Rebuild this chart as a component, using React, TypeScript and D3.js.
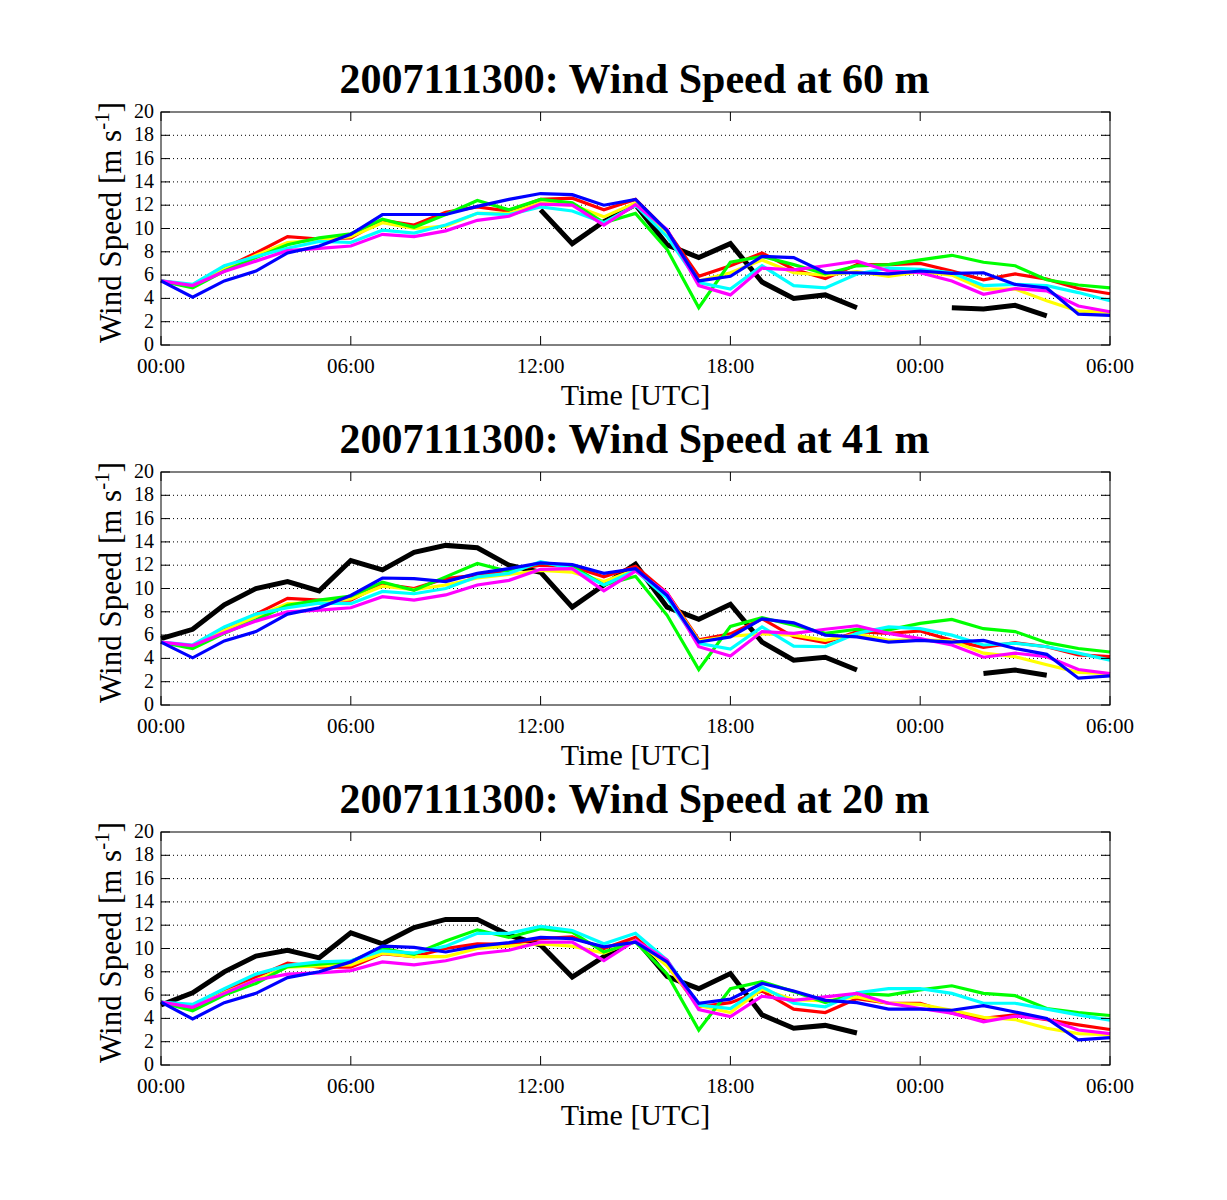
import React from "react";
import * as d3 from "d3";

const hours = d3.range(0, 31);
const xTickHours = [0, 6, 12, 18, 24, 30];
const xTickLabels = ["00:00", "06:00", "12:00", "18:00", "00:00", "06:00"];
const yTicks = [0, 2, 4, 6, 8, 10, 12, 14, 16, 18, 20];
const titles = [
  "2007111300: Wind Speed at 60 m",
  "2007111300: Wind Speed at 41 m",
  "2007111300: Wind Speed at 20 m",
];

const N = null;
// 60 m
const black60 = [N, N, N, N, N, N, N, N, N, N, N, N, 11.6, 8.7, 10.6, 12.05, 8.6, 7.5, 8.7, 5.4, 4.0, 4.3, 3.2, N, N, 3.2, 3.1, 3.4, 2.5, N, N];
const red60 = [5.5, 5.0, 6.6, 7.9, 9.3, 9.1, 9.2, 10.7, 10.3, 11.4, 11.85, 11.5, 12.5, 12.6, 11.6, 12.5, 9.8, 5.9, 6.8, 7.9, 6.5, 5.7, 6.9, 6.9, 7.0, 6.35, 5.6, 6.1, 5.65, 4.85, 4.4];
const yellow60 = [5.5, 5.1, 6.5, 7.7, 8.8, 9.0, 9.3, 10.5, 10.0, 10.2, 11.3, 11.3, 12.2, 12.0, 11.0, 12.2, 9.7, 5.5, 6.2, 7.3, 6.2, 6.0, 6.3, 5.9, 6.3, 6.0, 4.8, 4.8, 3.8, 2.9, 2.8];
const green60 = [5.5, 4.9, 6.35, 7.5, 8.6, 9.2, 9.55, 10.8, 10.1, 11.2, 12.4, 11.6, 12.5, 12.2, 10.5, 11.3, 8.2, 3.2, 7.1, 7.6, 6.9, 6.1, 6.8, 6.9, 7.3, 7.7, 7.1, 6.8, 5.6, 5.15, 4.9];
const cyan60 = [5.5, 5.2, 6.8, 7.6, 8.3, 8.9, 8.8, 9.85, 9.6, 10.3, 11.3, 11.2, 11.85, 11.5, 10.5, 12.0, 9.3, 5.35, 4.8, 6.8, 5.1, 4.9, 6.1, 6.6, 6.5, 6.2, 5.1, 5.2, 5.1, 4.5, 3.8];
const magenta60 = [5.5, 5.1, 6.3, 7.2, 8.1, 8.3, 8.5, 9.5, 9.3, 9.8, 10.7, 11.05, 12.1, 12.0, 10.3, 12.05, 9.9, 5.1, 4.3, 6.6, 6.45, 6.8, 7.2, 6.35, 6.2, 5.5, 4.35, 4.85, 4.65, 3.35, 2.85];
const blue60 = [5.5, 4.1, 5.5, 6.35, 7.9, 8.5, 9.5, 11.2, 11.2, 11.2, 11.9, 12.5, 13.0, 12.9, 12.0, 12.5, 9.8, 5.5, 5.9, 7.6, 7.5, 6.2, 6.2, 6.1, 6.35, 6.15, 6.2, 5.2, 4.9, 2.65, 2.55];
// 41 m
const black41 = [5.7, 6.5, 8.6, 10.0, 10.6, 9.8, 12.4, 11.6, 13.1, 13.7, 13.5, 12.0, 11.4, 8.4, 10.3, 12.1, 8.4, 7.35, 8.65, 5.4, 3.85, 4.1, 3.0, N, N, N, 2.7, 3.0, 2.55, N, N];
const red41 = [5.4, 5.0, 6.5, 7.8, 9.15, 9.0, 9.0, 10.4, 10.0, 10.85, 11.15, 11.6, 12.0, 11.9, 11.0, 11.9, 9.6, 5.6, 6.1, 7.4, 5.85, 5.35, 6.3, 6.15, 6.35, 5.55, 4.95, 5.35, 5.0, 4.3, 4.15];
const yellow41 = [5.4, 5.0, 6.4, 7.6, 8.7, 8.8, 9.1, 10.2, 9.9, 10.3, 10.9, 11.2, 11.55, 11.4, 10.6, 11.6, 9.5, 5.5, 5.9, 6.1, 6.0, 5.55, 6.1, 5.55, 5.6, 5.5, 4.45, 4.15, 3.45, 2.8, 2.7];
const green41 = [5.4, 4.85, 6.15, 7.3, 8.55, 9.0, 9.35, 10.55, 9.85, 11.0, 12.15, 11.45, 12.2, 11.9, 10.3, 11.05, 7.7, 3.05, 6.75, 7.5, 6.85, 6.15, 6.5, 6.45, 7.0, 7.35, 6.55, 6.3, 5.35, 4.85, 4.55];
const cyan41 = [5.4, 5.15, 6.7, 7.8, 8.35, 8.75, 8.7, 9.75, 9.55, 10.0, 11.0, 11.3, 12.3, 11.7, 10.3, 11.55, 9.15, 5.3, 4.8, 6.7, 5.05, 5.0, 6.15, 6.7, 6.55, 6.0, 5.15, 5.3, 5.0, 4.45, 3.85];
const magenta41 = [5.4, 5.1, 6.2, 7.2, 8.0, 8.15, 8.35, 9.3, 9.0, 9.45, 10.3, 10.7, 11.65, 11.7, 9.8, 11.5, 9.6, 5.0, 4.2, 6.3, 6.15, 6.5, 6.8, 6.15, 5.7, 5.15, 4.1, 4.45, 4.15, 3.05, 2.7];
const blue41 = [5.4, 4.05, 5.5, 6.3, 7.8, 8.35, 9.4, 10.9, 10.85, 10.6, 11.3, 11.7, 12.2, 12.05, 11.3, 11.7, 9.4, 5.4, 5.85, 7.4, 7.05, 6.0, 5.85, 5.4, 5.55, 5.4, 5.55, 4.85, 4.35, 2.3, 2.5];
// 20 m
const black20 = [5.15, 6.2, 8.0, 9.35, 9.85, 9.2, 11.35, 10.4, 11.8, 12.5, 12.5, 11.15, 10.3, 7.55, 9.3, 10.8, 7.6, 6.55, 7.85, 4.3, 3.15, 3.4, 2.75, N, N, N, N, N, N, N, N];
const red20 = [5.4, 4.85, 6.3, 7.55, 8.75, 8.4, 8.4, 9.55, 9.3, 10.0, 10.4, 10.35, 10.85, 11.0, 10.0, 10.95, 8.55, 5.0, 5.35, 6.35, 4.8, 4.5, 5.7, 5.3, 5.3, 4.45, 4.0, 4.3, 3.9, 3.45, 3.05];
const yellow20 = [5.4, 5.0, 6.2, 7.3, 8.4, 8.5, 8.6, 9.6, 9.3, 9.3, 10.0, 10.2, 10.4, 10.2, 9.6, 10.7, 8.5, 5.1, 4.5, 6.5, 5.6, 5.5, 5.85, 5.3, 5.2, 4.7, 4.1, 3.9, 3.15, 2.7, 2.6];
const green20 = [5.4, 4.65, 6.0, 7.0, 8.45, 8.65, 8.9, 10.0, 9.5, 10.65, 11.6, 10.95, 11.7, 11.4, 9.7, 10.55, 7.8, 3.0, 6.55, 7.15, 6.3, 5.35, 6.15, 6.0, 6.45, 6.8, 6.15, 5.95, 4.85, 4.5, 4.25];
const cyan20 = [5.4, 5.2, 6.55, 7.8, 8.55, 8.85, 8.95, 9.8, 9.6, 10.2, 11.3, 11.3, 11.9, 11.55, 10.4, 11.3, 9.0, 5.15, 4.85, 6.7, 5.3, 5.0, 6.2, 6.55, 6.55, 6.15, 5.3, 5.3, 4.8, 4.3, 3.85];
const magenta20 = [5.4, 4.95, 6.15, 7.3, 7.8, 7.9, 8.1, 8.85, 8.6, 8.95, 9.55, 9.85, 10.55, 10.55, 8.95, 10.7, 9.0, 4.75, 4.15, 5.9, 5.55, 5.85, 6.15, 5.3, 4.85, 4.45, 3.7, 4.2, 3.95, 3.0, 2.7];
const blue20 = [5.4, 3.95, 5.35, 6.15, 7.5, 8.0, 8.85, 10.2, 10.1, 9.7, 10.2, 10.5, 10.95, 10.85, 10.15, 10.55, 8.85, 5.3, 5.65, 7.0, 6.35, 5.55, 5.35, 4.8, 4.8, 4.7, 5.1, 4.55, 4.0, 2.15, 2.35];

const seriesColors = ["#000000", "#ff0000", "#ffff00", "#00ff00", "#00ffff", "#ff00ff", "#0000ff"];
const seriesWidths = [5, 3.2, 3.2, 3.2, 3.2, 3.2, 3.2];
const panels = [
  [black60, red60, yellow60, green60, cyan60, magenta60, blue60],
  [black41, red41, yellow41, green41, cyan41, magenta41, blue41],
  [black20, red20, yellow20, green20, cyan20, magenta20, blue20],
];

const W = 1227;
const H = 1200;
const left = 161;
const right = 1110;
const plotH = 233;
const tops = [112, 472, 832];
const serif = "'Liberation Serif', 'Times New Roman', serif";

function Panel({ idx }: { idx: number }) {
  const top = tops[idx];
  const bottom = top + plotH;
  const x = d3.scaleLinear().domain([0, 30]).range([left, right]);
  const y = d3.scaleLinear().domain([0, 20]).range([bottom, top]);
  const line = d3
    .line<number | null>()
    .defined((d) => d != null)
    .x((_, i) => x(hours[i]))
    .y((d) => y(d as number));
  const tick = 9;
  const cy = (top + bottom) / 2 - 6;
  return (
    <g>
      <text x={(left + right) / 2 - 1} y={top - 19} textAnchor="middle" fontFamily={serif} fontWeight="bold" fontSize={42}>
        {titles[idx]}
      </text>
      {yTicks.slice(1, -1).map((t) => (
        <line key={"g" + t} x1={left} x2={right} y1={y(t)} y2={y(t)} stroke="#000" strokeWidth={1} strokeDasharray="1,3" />
      ))}
      {panels[idx].map((s, i) => (
        <path key={i} d={line(s) || ""} fill="none" stroke={seriesColors[i]} strokeWidth={seriesWidths[i]} strokeLinejoin="miter" />
      ))}
      <rect x={left} y={top} width={right - left} height={plotH} fill="none" stroke="#000" strokeWidth={1} />
      {xTickHours.map((h, i) => (
        <g key={"x" + i}>
          <line x1={x(h)} x2={x(h)} y1={bottom} y2={bottom - tick} stroke="#000" />
          <line x1={x(h)} x2={x(h)} y1={top} y2={top + tick} stroke="#000" />
          <text x={x(h)} y={bottom + 28} textAnchor="middle" fontFamily={serif} fontSize={21}>
            {xTickLabels[i]}
          </text>
        </g>
      ))}
      {yTicks.map((t) => (
        <g key={"y" + t}>
          <line x1={left} x2={left + tick} y1={y(t)} y2={y(t)} stroke="#000" />
          <line x1={right} x2={right - tick} y1={y(t)} y2={y(t)} stroke="#000" />
          <text x={left - 7} y={y(t)} dy="0.3em" textAnchor="end" fontFamily={serif} fontSize={20}>
            {t}
          </text>
        </g>
      ))}
      <text x={(left + right) / 2} y={bottom + 60} textAnchor="middle" fontFamily={serif} fontSize={30}>
        Time [UTC]
      </text>
      <text transform={`translate(121, ${cy}) rotate(-90)`} textAnchor="middle" fontFamily={serif} fontSize={31}>
        Wind Speed [m s<tspan dy={-12} fontSize={21}>-1</tspan>
        <tspan dy={12}>]</tspan>
      </text>
    </g>
  );
}

export default function App() {
  return (
    <div style={{ position: "absolute", left: 0, top: 0, background: "#fff" }}>
      <svg width={W} height={H} viewBox={`0 0 ${W} ${H}`} style={{ display: "block" }}>
        <rect width={W} height={H} fill="#fff" />
        {[0, 1, 2].map((i) => (
          <Panel key={i} idx={i} />
        ))}
      </svg>
    </div>
  );
}
